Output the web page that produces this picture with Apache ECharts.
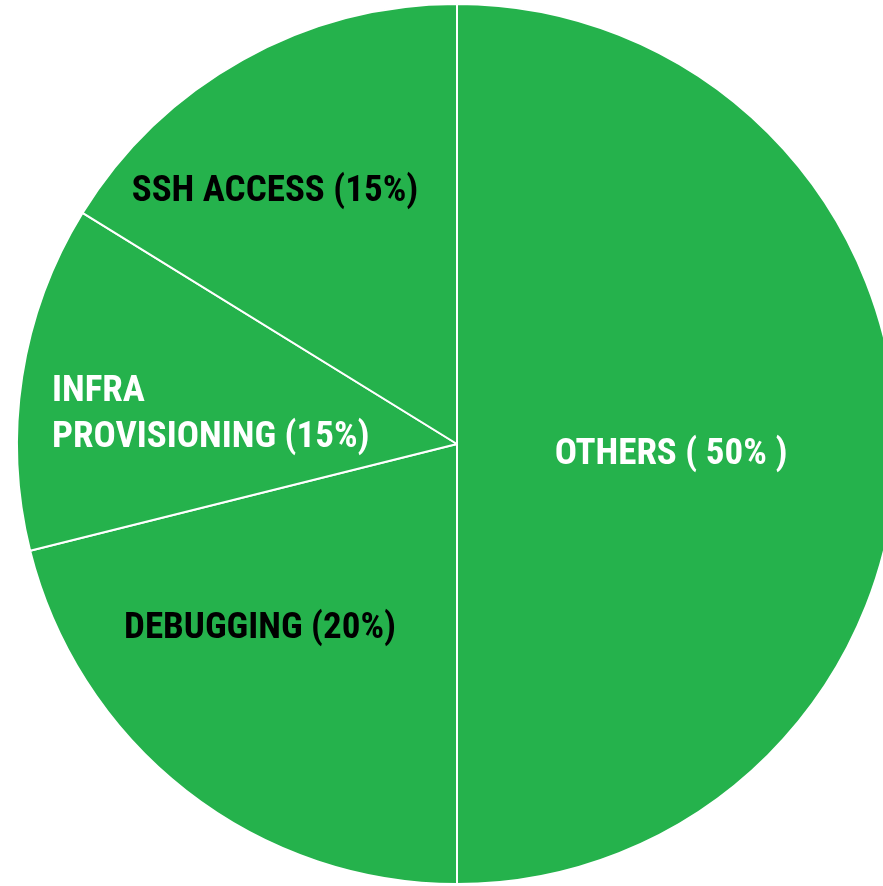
<!DOCTYPE html>
<html>
<head>
<meta charset="utf-8">
<style>
  html, body { margin: 0; padding: 0; background: #ffffff; }
  #chart { width: 883px; height: 886px; }
</style>
<script src="https://cdn.jsdelivr.net/npm/echarts@6/dist/echarts.min.js"></script>
</head>
<body>
<div id="chart"></div>
<script>
// Categories and slice values
const categories = ['OTHERS', 'DEBUGGING', 'INFRA\nPROVISIONING', 'SSH ACCESS'];
const values = [50, 21.1, 12.7, 16.2];
// Label texts as printed on the chart
const labelTexts = ['OTHERS ( 50% )', 'DEBUGGING (20%)', 'INFRA\nPROVISIONING (15%)', 'SSH ACCESS (15%)'];

const labelLayoutTable = [
  { x: 671, y: 455, align: 'center' },
  { x: 260, y: 629, align: 'center' },
  { x: 52, y: 415, align: 'left' },
  { x: 275, y: 192, align: 'center' }
];
const labelColors = ['#ffffff', '#000000', '#ffffff', '#000000'];

const chart = echarts.init(document.getElementById('chart'), null, { renderer: 'canvas' });
chart.setOption({
  animation: false,
  series: [{
    type: 'pie',
    center: [457, 444],
    radius: 440,
    startAngle: 90,
    clockwise: true,
    silent: true,
    itemStyle: { color: '#25b24c', borderColor: '#ffffff', borderWidth: 2 },
    label: {
      show: true,
      position: 'inside',
      fontFamily: "'Roboto Condensed', 'Roboto', sans-serif",
      fontWeight: 'bold',
      fontSize: 37,
      lineHeight: 46
    },
    labelLine: { show: false },
    labelLayout: function (p) {
      const l = labelLayoutTable[p.dataIndex];
      return { x: l.x, y: l.y, align: l.align, verticalAlign: 'middle' };
    },
    data: categories.map((c, i) => ({
      name: c,
      value: values[i],
      label: { formatter: labelTexts[i], color: labelColors[i], align: labelLayoutTable[i].align }
    }))
  }]
});
</script>
</body>
</html>
